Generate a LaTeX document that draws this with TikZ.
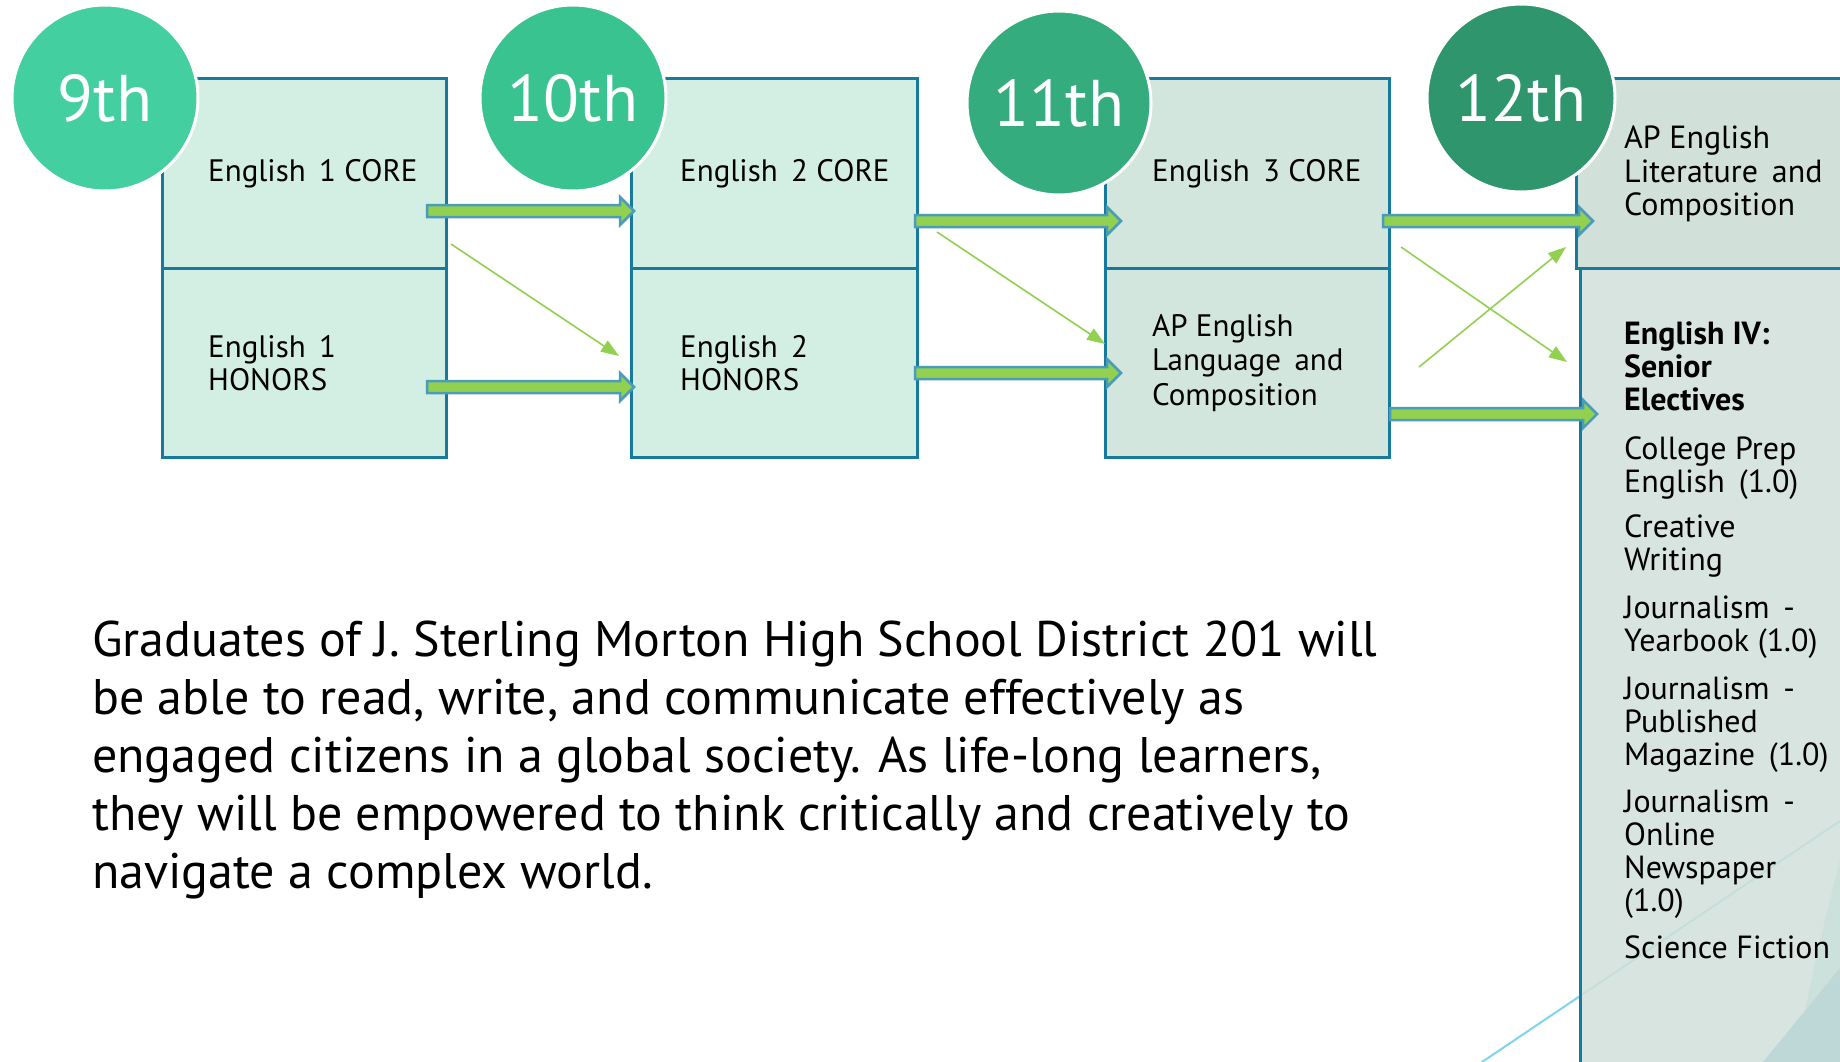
\documentclass[tikz,border=0pt]{standalone}
\usepackage{fontspec}
\setmainfont{PT Sans}
\usetikzlibrary{arrows.meta,calc}
\definecolor{boxA}{HTML}{D3EEE2}
\definecolor{boxB}{HTML}{D3E6DD}
\definecolor{boxC}{HTML}{D2E0DA}
\definecolor{boxline}{HTML}{17799B}
\definecolor{gA}{HTML}{44CFA1}
\definecolor{gB}{HTML}{38C391}
\definecolor{gC}{HTML}{35AC7D}
\definecolor{gD}{HTML}{2E956C}
\definecolor{arrgreen}{HTML}{92D050}
\definecolor{arrblue}{HTML}{4B9CB8}
\definecolor{decoblue}{HTML}{7FD4EE}
\definecolor{cornerA}{HTML}{CCE0DC}
\definecolor{cornerB}{HTML}{BED8D7}
\tikzset{
  box/.style={draw=boxline, line width=3pt, rectangle, inner sep=0pt},
  grade/.style={circle, draw=white, line width=3pt, minimum size=186pt, inner sep=0pt, text=white, font=\fontsize{66}{66}\selectfont},
  boxtxt/.style={anchor=west, align=left, inner sep=0pt, font=\fontsize{31}{33}\selectfont},
  blockarr/.style={fill=arrgreen, draw=arrblue, line width=2.5pt, line join=miter},
  diagarr/.style={draw=arrgreen, line width=1.6pt, -{Triangle[length=18pt,width=13pt]}},
}
\newcommand\gradearrow[2]{%
  \path[blockarr] let \p1=(#1), \p2=(#2) in
  (\x1,\y1+6pt) -- (\x2-14pt,\y1+6pt) -- (\x2-14pt,\y1+14pt) -- (\x2,\y1)
  -- (\x2-14pt,\y1-14pt) -- (\x2-14pt,\y1-6pt) -- (\x1,\y1-6pt) -- cycle;}
\begin{document}
\begin{tikzpicture}[x=1pt,y=-1pt]
\useasboundingbox (0,0) rectangle (1840,1062);
\fill[white] (0,0) rectangle (1840,1062);

% decorative line
\coordinate (d0) at (1482,1062);
\coordinate (d1) at (1840,821);
\draw[decoblue, line width=2pt] (d0) -- (d1);

% boxes
\node[box, fill=boxA, minimum width=284pt, minimum height=189pt] (b1t) at (304,173.5) {};
\node[box, fill=boxA, minimum width=284pt, minimum height=189pt] (b1b) at (304,362.5) {};
\node[box, fill=boxA, minimum width=286pt, minimum height=189pt] (b2t) at (774,173.5) {};
\node[box, fill=boxA, minimum width=286pt, minimum height=189pt] (b2b) at (774,362.5) {};
\node[box, fill=boxB, minimum width=284pt, minimum height=189pt] (b3t) at (1247,173.5) {};
\node[box, fill=boxB, minimum width=284pt, minimum height=189pt] (b3b) at (1247,362.5) {};
\node[box, fill=boxC, minimum width=274pt, minimum height=189pt] (b4t) at (1713,173.5) {};
\node[box, fill=boxC, fill opacity=0.85, minimum width=270pt, minimum height=807pt] (b4b) at (1715,671.5) {};

% corner shading in last box
\fill[cornerA] (1795,1062) .. controls (1815,960) .. (1840,860) -- (1840,1062) -- cycle;
\fill[cornerB] (1763,1062) -- (1840,968) -- (1840,1062) -- cycle;

% box texts
\node[boxtxt] (t1t) at (208,174) {English\, 1 CORE};
\node[boxtxt] (t1b) at (208,363) {English\, 1\\HONORS};
\node[boxtxt] (t2t) at (680,174) {English\, 2 CORE};
\node[boxtxt] (t2b) at (680,363) {English\, 2\\HONORS};
\node[boxtxt] (t3t) at (1152,174) {English\, 3 CORE};
\node[boxtxt, font=\fontsize{31}{34.5}\selectfont] (t3b) at (1152,363) {AP English\\Language\, and\\Composition};
\node[boxtxt, font=\fontsize{32}{33.5}\selectfont] (t4t) at (1624,174) {AP English\\Literature\, and\\Composition};
\node[anchor=north west, align=left, inner sep=0pt, font=\fontsize{32}{33}\selectfont] (t4b) at (1624,322)
 {\textbf{English IV:}\\\textbf{Senior}\\\textbf{Electives}\\[16pt]
  College Prep\\English\, (1.0)\\[12pt]
  Creative\\Writing\\[15pt]
  Journalism\, -\\Yearbook (1.0)\\[15pt]
  Journalism\, -\\Published\\Magazine\, (1.0)\\[14pt]
  Journalism\, -\\Online\\Newspaper\\(1.0)\\[14pt]
  Science Fiction};

% thick arrows
\coordinate (a1s) at (427,211);  \coordinate (a1e) at (634,211);
\coordinate (a2s) at (427,387);  \coordinate (a2e) at (634,387);
\coordinate (a3s) at (915,221);  \coordinate (a3e) at (1121,221);
\coordinate (a4s) at (915,373);  \coordinate (a4e) at (1121,373);
\coordinate (a5s) at (1383,221); \coordinate (a5e) at (1593,221);
\coordinate (a6s) at (1390,414); \coordinate (a6e) at (1597,414);
\gradearrow{a1s}{a1e}
\gradearrow{a2s}{a2e}
\gradearrow{a3s}{a3e}
\gradearrow{a4s}{a4e}
\gradearrow{a5s}{a5e}
\gradearrow{a6s}{a6e}

% thin diagonal arrows
\coordinate (c1s) at (451,244);  \coordinate (c1e) at (619,356);
\coordinate (c2s) at (937,232);  \coordinate (c2e) at (1105,344);
\coordinate (c3s) at (1401,247); \coordinate (c3e) at (1567,362);
\coordinate (c4s) at (1419,367); \coordinate (c4e) at (1566,247);
\draw[diagarr] (c1s) -- (c1e);
\draw[diagarr] (c2s) -- (c2e);
\draw[diagarr] (c3s) -- (c3e);
\draw[diagarr] (c4s) -- (c4e);

% grade circles
\node[grade, fill=gA] (g9) at (105,98) {9th};
\node[grade, fill=gB] (g10) at (573,98) {10th};
\node[grade, fill=gC, minimum size=184pt] (g11) at (1059,103) {11th};
\node[grade, fill=gD, minimum size=188pt] (g12) at (1521,98) {12th};

% mission statement
\node[anchor=north west, align=left, inner sep=0pt, font=\fontsize{50}{58}\selectfont] (mission) at (92,621)
 {Graduates of J. Sterling Morton High School District 201 will\\
  be able to read, write, and communicate effectively as\\
  engaged citizens in a global society. As life-long learners,\\
  they will be empowered to think critically and creatively to\\
  navigate a complex world.};
\end{tikzpicture}
\end{document}
